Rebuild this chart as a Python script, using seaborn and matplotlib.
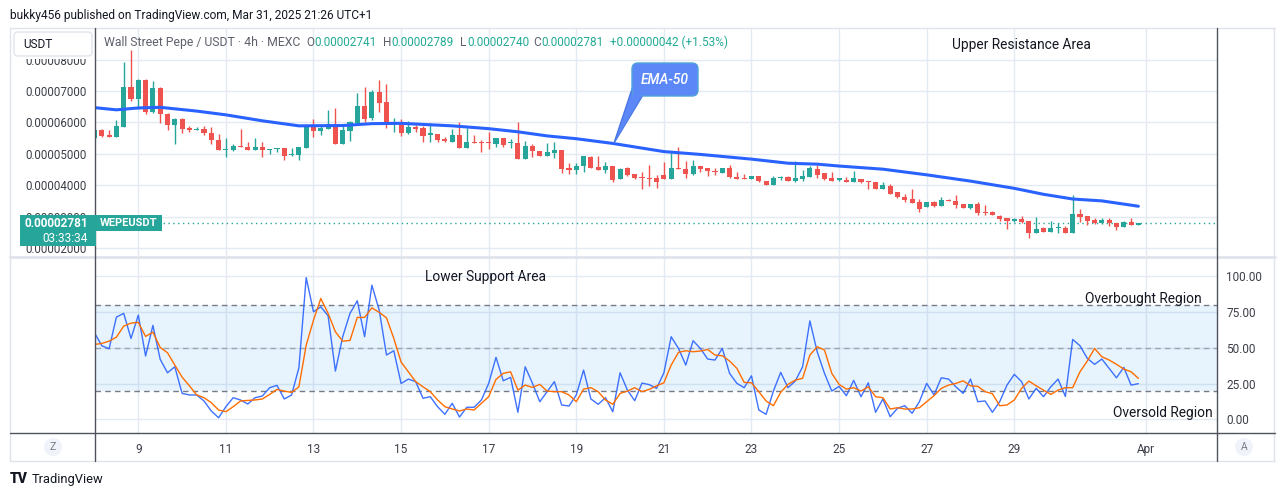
import numpy as np
import pandas as pd
import matplotlib
matplotlib.use("Agg")
import matplotlib.pyplot as plt
import seaborn as sns
from matplotlib.patches import FancyBboxPatch, Polygon, Rectangle, Circle
from matplotlib.lines import Line2D
from matplotlib.transforms import Affine2D, Bbox

W, H = 1281, 496

# ---------------- data (price in units of 0.00001 USDT) ----------------
opens = [5.50,5.76,5.57,5.55,5.86,7.12,6.74,7.35,6.34,7.10,
         6.27,5.93,6.11,5.83,5.76,5.79,5.65,5.44,5.11,5.13,
         5.25,5.22,5.12,5.22,5.12,5.14,5.17,4.95,4.96,5.20,
         5.91,5.74,5.80,5.95,5.31,5.74,5.99,6.52,6.15,6.98,
         6.65,5.94,6.01,5.66,5.86,5.83,5.61,5.63,5.48,5.39,
         5.60,5.19,5.39,5.38,5.35,5.30,5.50,5.33,5.34,4.84,
         5.25,5.08,4.94,5.04,5.12,4.55,4.49,4.62,4.90,4.58,
         4.49,4.61,4.19,4.55,4.36,4.25,4.23,4.23,4.32,4.21,
         4.55,4.50,4.37,4.61,4.55,4.45,4.40,4.55,4.27,4.20,
         4.19,4.29,4.14,4.02,4.22,4.26,4.14,4.19,4.27,4.52,
         4.38,4.23,4.18,4.17,4.11,4.21,4.12,4.09,3.89,3.98,
         3.78,3.63,3.56,3.46,3.30,3.46,3.35,3.53,3.49,3.40,
         3.28,3.40,3.14,3.15,3.02,2.96,2.87,2.92,2.87,2.49,
         2.64,2.52,2.64,2.64,2.49,3.08,3.01,2.90,2.81,2.90,
         2.80,2.68,2.83,2.741]
highs = [5.78,5.79,5.77,6.08,7.93,8.31,7.37,7.37,7.32,7.12,
         6.30,6.13,6.14,5.88,5.86,5.89,5.85,5.62,5.50,5.31,
         5.79,5.39,5.50,5.36,5.16,5.17,5.20,5.20,5.23,5.93,
         6.10,5.96,6.40,6.45,5.95,6.03,6.93,7.13,7.03,7.35,
         7.22,6.14,6.11,6.05,5.92,5.88,5.97,5.63,5.52,5.78,
         6.00,5.81,5.60,5.45,5.70,5.50,5.50,5.46,6.00,5.41,
         5.32,5.08,5.33,5.36,5.12,4.70,4.72,4.93,4.93,4.93,
         4.74,4.61,4.55,4.58,4.36,4.41,4.63,4.33,4.74,5.03,
         5.21,4.76,4.80,4.61,4.55,4.55,4.55,4.63,4.41,4.37,
         4.30,4.29,4.14,4.30,4.30,4.28,4.77,4.47,4.60,4.64,
         4.38,4.42,4.20,4.26,4.44,4.21,4.12,4.09,4.09,4.04,
         3.78,3.71,3.88,3.56,3.46,3.50,3.62,3.56,3.69,3.40,
         3.40,3.45,3.38,3.17,3.04,2.96,2.97,3.02,2.87,2.99,
         2.68,2.86,2.79,2.71,3.69,3.25,3.01,2.97,2.97,2.97,
         2.80,2.85,2.97,2.789]
lows = [5.47,5.53,5.53,5.53,5.86,6.69,6.43,6.27,6.30,5.97,
        5.76,5.31,5.65,5.70,5.76,5.59,5.30,5.11,4.91,5.10,
        5.21,5.12,5.12,4.91,4.98,5.07,4.80,4.94,4.81,5.18,
        5.55,5.59,5.78,5.30,5.30,5.42,5.97,6.00,6.07,6.34,
        5.83,5.70,5.58,5.64,5.70,5.39,5.39,5.39,5.36,5.39,
        5.19,5.19,5.35,5.07,5.14,5.22,5.22,5.19,4.84,4.84,
        4.89,4.94,4.94,4.87,4.40,4.36,4.36,4.43,4.56,4.49,
        4.40,4.11,4.19,4.30,4.20,3.89,3.97,3.91,4.21,4.21,
        4.50,4.22,4.34,4.43,4.30,4.34,4.40,4.22,4.19,4.19,
        4.19,4.11,4.02,4.02,4.16,4.14,4.10,4.14,4.27,4.22,
        4.18,4.13,4.13,4.11,4.11,4.06,3.89,3.88,3.89,3.73,
        3.59,3.47,3.44,3.16,3.30,3.30,3.35,3.50,3.27,3.28,
        3.24,3.04,3.04,3.04,2.87,2.61,2.84,2.80,2.33,2.49,
        2.52,2.52,2.49,2.49,2.49,2.84,2.74,2.77,2.77,2.71,
        2.57,2.68,2.72,2.740]
closes = [5.76,5.57,5.55,5.89,7.14,6.74,7.35,6.34,7.10,6.26,
          5.93,6.11,5.79,5.76,5.80,5.65,5.44,5.13,5.15,5.25,
          5.22,5.12,5.22,5.12,5.15,5.15,4.93,4.96,5.22,5.91,
          5.73,5.83,5.95,5.31,5.76,6.01,6.52,6.11,6.98,6.63,
          5.94,5.99,5.66,5.85,5.80,5.58,5.65,5.45,5.41,5.60,
          5.19,5.37,5.35,5.35,5.33,5.50,5.28,5.36,4.84,5.25,
          5.09,4.94,5.05,5.12,4.53,4.49,4.61,4.93,4.56,4.49,
          4.61,4.17,4.53,4.34,4.23,4.22,4.20,4.10,4.21,4.56,
          4.50,4.37,4.61,4.53,4.44,4.43,4.55,4.27,4.19,4.19,
          4.29,4.14,4.02,4.23,4.24,4.14,4.23,4.29,4.54,4.34,
          4.21,4.13,4.20,4.11,4.23,4.10,4.11,3.88,4.02,3.73,
          3.61,3.53,3.44,3.25,3.46,3.35,3.53,3.50,3.38,3.28,
          3.40,3.13,3.12,3.04,2.92,2.86,2.92,2.82,2.49,2.61,
          2.52,2.64,2.66,2.49,3.08,3.00,2.86,2.81,2.90,2.79,
          2.68,2.83,2.72,2.781]

ema_idx = [0,3,6,9,14,18,23,28,34,38,42,49,54,58,62,66,71,78,83,90,95,99,102,108,114,120,126,130,134,138,143]
ema_vals = [6.47,6.40,6.46,6.48,6.36,6.24,6.05,5.89,5.90,5.96,5.97,5.89,5.80,5.70,5.57,5.48,5.33,5.07,4.98,4.83,
            4.70,4.67,4.61,4.51,4.33,4.13,3.90,3.71,3.56,3.50,3.33]

stoch_k = [60.4,51.4,49.3,71.4,74.0,56.5,72.8,44.2,65.6,41.9,
           32.5,36.7,18.1,17.0,17.0,12.8,5.8,1.1,8.8,15.1,
           13.5,10.7,15.1,16.3,22.1,23.7,14.2,17.0,36.0,99.0,
           75.1,78.6,72.3,33.7,57.7,74.0,82.8,57.7,93.7,76.3,
           44.9,47.9,25.0,28.1,26.3,14.7,15.8,8.8,3.5,11.2,
           1.6,8.4,8.4,13.5,25.1,43.3,26.9,29.3,4.9,36.7,
           25.1,12.3,19.3,26.3,10.0,9.3,17.0,34.4,14.2,10.5,
           15.1,5.3,32.5,20.4,13.0,25.3,24.2,21.6,32.5,57.7,
           49.5,37.9,54.9,49.5,42.1,41.4,49.5,32.1,25.1,22.1,
           30.4,6.5,3.5,19.7,32.8,22.1,26.7,36.7,68.8,47.2,
           32.1,19.7,23.0,16.5,27.2,15.8,25.5,4.9,14.2,1.8,
           7.7,9.5,4.2,12.3,25.1,17.0,29.0,28.1,22.7,18.1,
           28.1,12.3,12.8,4.9,12.3,23.9,31.4,26.3,14.2,21.6,
           15.8,22.7,28.1,16.0,55.8,51.4,42.6,38.4,42.1,35.6,
           29.0,36.3,23.9,24.9]
stoch_d = [52.3,53.0,54.6,57.4,65.1,67.2,67.7,57.9,60.9,50.2,
           46.5,37.9,29.5,23.4,17.0,15.1,11.6,6.5,5.3,8.8,
           12.8,13.2,13.5,14.2,17.4,20.9,19.7,18.8,22.7,51.8,
           69.3,84.4,74.0,61.1,54.6,55.1,71.2,71.2,77.9,74.7,
           70.9,56.5,40.0,33.2,26.3,22.7,19.3,13.5,8.8,7.2,
           5.8,7.2,6.5,11.2,15.8,27.9,32.1,33.2,20.4,23.9,
           22.3,24.4,19.7,19.3,19.3,17.0,12.3,21.1,22.1,19.3,
           13.5,10.5,18.1,19.7,22.1,19.3,20.9,23.4,25.5,37.9,
           46.8,47.9,47.2,47.7,48.8,44.9,44.4,40.7,35.6,25.8,
           25.5,19.3,12.8,9.5,18.8,24.4,27.4,28.6,44.9,50.7,
           48.4,32.1,24.4,21.1,22.1,19.7,22.7,15.8,15.1,7.2,
           8.1,7.2,7.2,8.1,12.3,16.5,21.6,23.9,25.1,26.9,
           23.4,23.0,19.3,17.9,9.5,10.0,13.5,21.6,26.7,23.4,
           20.4,17.4,20.4,22.1,22.1,33.2,40.7,49.5,43.7,41.4,
           38.4,35.1,33.2,28.6]

day_ticks = [6, 18, 30, 42, 54, 66, 78, 90, 102, 114, 126, 144]
day_labels = ["9", "11", "13", "15", "17", "19", "21", "23", "25", "27", "29", "Apr"]
price_ticks = [2, 3, 4, 5, 6, 7, 8]
rsi_ticks = [0, 25, 50, 75, 100]
last_close = 2.781

# ---------------- style ----------------
sns.set_style("white")
plt.rcParams['font.family'] = ['Roboto', 'DejaVu Sans']

TEAL = '#26a69a'
RED = '#ef5350'
GRID = '#e3eaf1'
TXT = '#131722'
AXTXT = '#3b3e48'
DARK = '#50535e'

fig = plt.figure(figsize=(W / 100, H / 100), dpi=100)
fig.patch.set_facecolor('white')
PX = Affine2D().scale(1, -1).translate(0, H)


def rect(x0, y0, x1, y1):
    return [x0 / W, 1 - y1 / H, (x1 - x0) / W, (y1 - y0) / H]


ax = fig.add_axes(rect(95, 28, 1217, 256))
ax2 = fig.add_axes(rect(95, 258, 1217, 433))

idx = np.arange(len(opens))
o = np.array(opens); c = np.array(closes)
hi = np.array(highs); lo = np.array(lows)
cols = np.where(c >= o, TEAL, RED)

# ---------------- price pane ----------------
ax.set_xlim(0.068, 153.77)
ax.set_ylim(1.745, 9.006)
ax.set_yticks(price_ticks)
ax.set_xticks(day_ticks)
ax.grid(True, color=GRID, lw=1, zorder=0)
ax.set_axisbelow(True)
ax.vlines(idx, lo, hi, colors=cols, lw=1, zorder=3)
ax.bar(idx, np.maximum(np.abs(c - o), 0.035), bottom=np.minimum(o, c),
       width=0.7, color=cols, linewidth=0, zorder=4)
sns.lineplot(x=ema_idx, y=ema_vals, ax=ax, color='#2962ff', lw=2.2, zorder=5)
ax.axhline(last_close, color=TEAL, lw=1, linestyle=(0, (1, 2.5)), zorder=2)
ax.set_xticklabels([])
ax.set_yticklabels([f"{v * 1e-5:.8f}" for v in price_ticks])
ax.tick_params(axis='y', length=0, pad=6, labelsize=8.3, labelcolor=AXTXT)
ax.tick_params(axis='x', length=0)
ax.set_xlabel(''); ax.set_ylabel('')
for s in ax.spines.values():
    s.set_visible(False)

# price-scale labels partly hidden behind the header row and the last-price badge
clip_regions = {8: Bbox([[0, H - 460], [95, H - 58.5]]),
                3: Bbox([[0, H - 215], [95, H - 58.5]]),
                2: Bbox([[0, H - 460], [95, H - 246]])}
for tick, lab in zip(price_ticks, ax.get_yticklabels()):
    if tick in clip_regions:
        lab.set_clip_box(clip_regions[tick])
        lab.set_clip_on(True)

# ---------------- oscillator pane ----------------
df = pd.DataFrame({'i': idx, 'k': stoch_k, 'd': stoch_d})
ax2.set_xlim(0.068, 153.77)
ax2.set_ylim(-9.57, 112.7)
ax2.set_yticks(rsi_ticks)
ax2.set_xticks(day_ticks)
ax2.grid(True, color=GRID, lw=1, zorder=0)
ax2.set_axisbelow(True)
ax2.axhspan(20, 80, color='#2196f3', alpha=0.1, lw=0, zorder=1)
for lvl, a in [(80, 1.0), (50, 0.6), (20, 1.0)]:
    ax2.axhline(lvl, color='#787b86', lw=1, linestyle=(0, (4, 3)), alpha=a, zorder=2)
sns.lineplot(data=df, x='i', y='k', ax=ax2, color='#2962ff', lw=1.0, alpha=0.9, zorder=4)
sns.lineplot(data=df, x='i', y='d', ax=ax2, color='#ff6d00', lw=1.0, zorder=5)
ax2.yaxis.tick_right()
ax2.set_yticklabels([f"{v:.2f}" for v in rsi_ticks])
ax2.set_xticklabels(day_labels)
ax2.tick_params(axis='y', length=0, pad=6.5, labelsize=8.5, labelcolor=AXTXT)
ax2.tick_params(axis='x', length=0, pad=7, labelsize=8.5, labelcolor=AXTXT)
ax2.set_xlabel(''); ax2.set_ylabel('')
for s in ax2.spines.values():
    s.set_visible(False)


# ---------------- frame lines ----------------
def hline(x0, x1, y, color, lw=1):
    fig.add_artist(Line2D([x0, x1], [y, y], transform=PX, color=color, lw=lw, zorder=6))


def vline(x, y0, y1, color, lw=1):
    fig.add_artist(Line2D([x, x], [y0, y1], transform=PX, color=color, lw=lw, zorder=6))


hline(10, 1275, 28, '#e0e3eb')
hline(10, 1275, 461, '#e0e3eb')
vline(10, 28, 461, '#e0e3eb')
vline(1274, 28, 461, '#e0e3eb')
hline(10, 1275, 257, '#e0e3eb', lw=2)
hline(10, 1275, 433, DARK, lw=1)
vline(95, 28, 461, DARK)
vline(1217, 28, 461, DARK)

# ---------------- overlays ----------------
fig.add_artist(FancyBboxPatch((14, 32), 78, 24, boxstyle="round,pad=0,rounding_size=4",
                              transform=PX, fc='white', ec='#e0e3eb', lw=1, zorder=7))
fig.text(23, 44.5, "USDT", transform=PX, fontsize=8.5, color=TXT, va='center', ha='left', zorder=8)

fig.add_artist(Rectangle((20, 215), 75.5, 31, transform=PX, fc=TEAL, ec='none', zorder=7))
fig.text(88, 223.5, "0.00002781", transform=PX, fontsize=8.5, color='white', weight='bold',
         va='center', ha='right', zorder=8)
fig.text(88, 238, "03:33:34", transform=PX, fontsize=8.5, color='white',
         va='center', ha='right', zorder=8)
fig.add_artist(Rectangle((96, 215), 66, 16, transform=PX, fc=TEAL, ec='none', zorder=7))
fig.text(129, 223.5, "WEPEUSDT", transform=PX, fontsize=8, color='white', weight='bold',
         va='center', ha='center', zorder=8)

# header & legend
fig.text(10, 15, "bukky456 published on TradingView.com, Mar 31, 2025 21:26 UTC+1",
         transform=PX, fontsize=8.6, color=TXT, va='center', ha='left')
fig.text(104, 42.5, "Wall Street Pepe / USDT · 4h · MEXC", transform=PX, fontsize=8.8,
         color='#5d606b', va='center', ha='left', zorder=8)

renderer = fig.canvas.get_renderer()
VAL = '#22ab94'
LEG = 8.5
for xpos, letter, val in [(306, "O", "0.00002741"), (383, "H", "0.00002789"),
                          (460, "L", "0.00002740"), (533, "C", "0.00002781")]:
    t = fig.text(xpos, 42.5, letter, transform=PX, fontsize=LEG, color='#5d606b',
                 va='center', ha='left', zorder=8)
    bb = t.get_window_extent(renderer)
    fig.text(xpos + bb.width + 0.5, 42.5, val, transform=PX, fontsize=LEG, color=VAL,
             va='center', ha='left', zorder=8)
fig.text(610, 42.5, "+0.00000042 (+1.53%)", transform=PX, fontsize=LEG, color=VAL,
         va='center', ha='left', zorder=8)

# annotations
fig.text(952, 44.5, "Upper Resistance Area", transform=PX, fontsize=9.9, color=TXT,
         va='center', ha='left', zorder=8)
fig.text(425, 276.5, "Lower Support Area", transform=PX, fontsize=9.9, color=TXT,
         va='center', ha='left', zorder=8)
fig.text(1085, 299.5, "Overbought Region", transform=PX, fontsize=9.9, color=TXT,
         va='center', ha='left', zorder=8)
fig.text(1113, 412.5, "Oversold Region", transform=PX, fontsize=9.9, color=TXT,
         va='center', ha='left', zorder=8)

# EMA-50 callout
CALL = '#5b87f7'
fig.add_artist(Polygon([(633, 86), (643, 95), (614, 143)], closed=True, transform=PX,
                       fc=CALL, ec='#4a78e8', lw=1, zorder=7))
fig.add_artist(FancyBboxPatch((632, 63), 66, 33, boxstyle="round,pad=0,rounding_size=6",
                              transform=PX, fc=CALL, ec='#4fa3d9', lw=1, zorder=7))
fig.add_artist(Polygon([(634, 93), (642, 95.5), (616, 139)], closed=True, transform=PX,
                       fc=CALL, ec='none', zorder=7.5))
fig.text(665, 79.5, "EMA-50", transform=PX, fontsize=10, color='white', style='italic',
         weight='medium', va='center', ha='center', zorder=8)

# corner buttons
for cx, ch in [(53, "Z"), (1244, "A")]:
    fig.add_artist(Circle((cx, 447), 9, transform=PX, fc='#f0f3fa', ec='none', zorder=7))
    fig.text(cx, 447.5, ch, transform=PX, fontsize=7.5, color='#787b86', va='center',
             ha='center', zorder=8)

# TradingView logo
fig.text(10, 479, "TV", transform=PX, fontsize=10, color=TXT, weight='heavy',
         va='center', ha='left')
fig.text(32, 479, "TradingView", transform=PX, fontsize=9.3, color=TXT, va='center', ha='left')

fig.savefig("out.png", dpi=100, facecolor='white')
